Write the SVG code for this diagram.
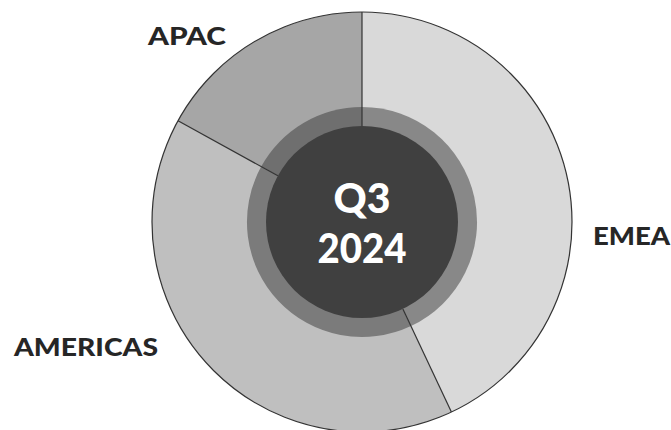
<svg xmlns="http://www.w3.org/2000/svg" width="671" height="430" viewBox="0 0 671 430">
<style>
.lbl{font-family:Lato,"Open Sans","Liberation Sans",sans-serif;font-weight:900;font-size:25px;fill:#262626}
.ctr{font-family:Lato,"Open Sans","Liberation Sans",sans-serif;font-weight:900;font-size:41px;fill:#ffffff;text-anchor:middle}
.div{stroke:#333333;stroke-width:1.2;fill:none}
</style>
<rect width="671" height="430" fill="#ffffff"/>
<g id="emea">
<path d="M362,222 L362,12 A210,210 0 0 1 451.4,412 Z" fill="#d9d9d9"/>
<path d="M362,222 L362,107 A115,115 0 0 1 411,326.05 Z" fill="#888888"/>
<text class="lbl" x="593" y="245" textLength="77" lengthAdjust="spacingAndGlyphs">EMEA</text>
</g>
<g id="americas">
<path d="M362,222 L451.4,412 A210,210 0 0 1 178,120.8 Z" fill="#bfbfbf"/>
<path d="M362,222 L411,326.05 A115,115 0 0 1 261.2,166.6 Z" fill="#7b7b7b"/>
<text class="lbl" x="14" y="356" textLength="144" lengthAdjust="spacingAndGlyphs">AMERICAS</text>
</g>
<g id="apac">
<path d="M362,222 L178,120.8 A210,210 0 0 1 362,12 Z" fill="#a6a6a6"/>
<path d="M362,222 L261.2,166.6 A115,115 0 0 1 362,107 Z" fill="#6f6f6f"/>
<text class="lbl" x="148" y="45" textLength="78" lengthAdjust="spacingAndGlyphs">APAC</text>
</g>
<g id="connectors">
<line class="div" x1="362" y1="126" x2="362" y2="12"/>
<line class="div" x1="402.9" y1="308.9" x2="451.4" y2="412"/>
<line class="div" x1="277.9" y1="175.75" x2="178" y2="120.8"/>
<circle class="div" cx="362" cy="222" r="210"/>
</g>
<g id="center">
<circle cx="362" cy="222" r="96" fill="#404040"/>
<text class="ctr" x="362" y="213">Q3</text>
<text class="ctr" x="362" y="263" textLength="89" lengthAdjust="spacingAndGlyphs">2024</text>
</g>
</svg>
